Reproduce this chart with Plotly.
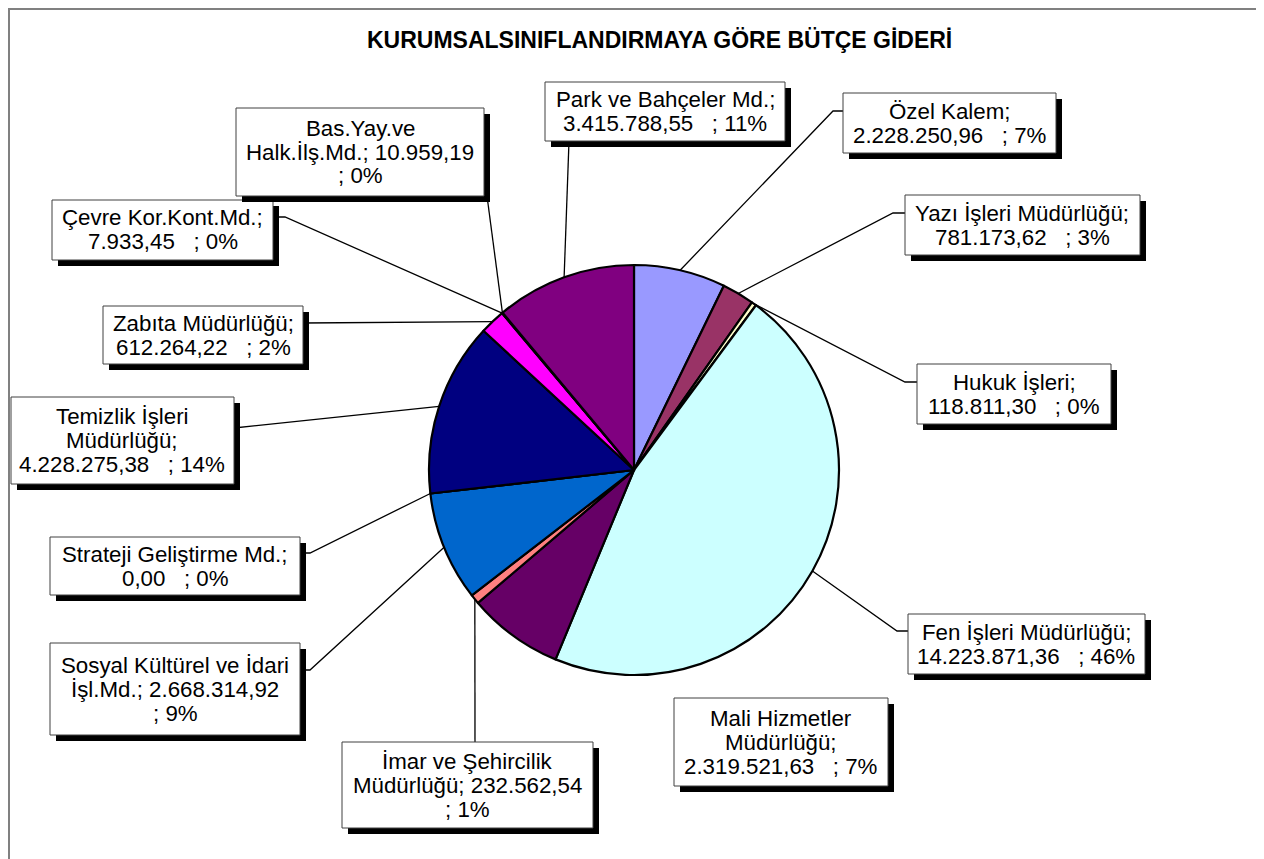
import math
import plotly.graph_objects as go

# ---------------- data ----------------
departments = [
    "Özel Kalem", "Yazı İşleri Müdürlüğü", "Hukuk İşleri", "Fen İşleri Müdürlüğü",
    "Mali Hizmetler Müdürlüğü", "İmar ve Şehircilik Müdürlüğü",
    "Sosyal Kültürel ve İdari İşl.Md.", "Strateji Geliştirme Md.",
    "Temizlik İşleri Müdürlüğü", "Zabıta Müdürlüğü", "Çevre Kor.Kont.Md.",
    "Bas.Yay.ve Halk.İlş.Md.", "Park ve Bahçeler Md.",
]
amounts = [
    2228250.96, 781173.62, 118811.30, 14223871.36, 2319521.63, 232562.54,
    2668314.92, 0.00, 4228275.38, 612264.22, 7933.45, 10959.19, 3415788.55,
]
percent_labels = ["7%", "3%", "0%", "46%", "7%", "1%", "9%", "0%", "14%", "2%", "0%", "0%", "11%"]

# label line templates ({v} = amount, {p} = percent)
label_templates = [
    ["Özel Kalem;", "{v}   ; {p}"],
    ["Yazı İşleri Müdürlüğü;", "{v}   ; {p}"],
    ["Hukuk İşleri;", "{v}   ; {p}"],
    ["Fen İşleri Müdürlüğü;", "{v}   ; {p}"],
    ["Mali Hizmetler", "Müdürlüğü;", "{v}   ; {p}"],
    ["İmar ve Şehircilik", "Müdürlüğü; {v}", "; {p}"],
    ["Sosyal Kültürel ve İdari", "İşl.Md.; {v}", "; {p}"],
    ["Strateji Geliştirme Md.;", "{v}   ; {p}"],
    ["Temizlik İşleri", "Müdürlüğü;", "{v}   ; {p}"],
    ["Zabıta Müdürlüğü;", "{v}   ; {p}"],
    ["Çevre Kor.Kont.Md.;", "{v}   ; {p}"],
    ["Bas.Yay.ve", "Halk.İlş.Md.; {v}", "; {p}"],
    ["Park ve Bahçeler Md.;", "{v}   ; {p}"],
]
title_text = "KURUMSALSINIFLANDIRMAYA GÖRE BÜTÇE GİDERİ"

# ---------------- style / layout ----------------
PAGE_OFF = 8                       # default body margin of the html page
W, H = 1264 - PAGE_OFF, 859 - PAGE_OFF   # figure size so the page fits the window
slice_colors = ["#9999FF", "#993366", "#FFFFCC", "#CCFFFF", "#660066", "#FF8080",
                "#0066CC", "#CCCCFF", "#000080", "#FF00FF", "#FFFF00", "#00FFFF", "#800080"]
FONT = "Arial, Liberation Sans, sans-serif"
FS = 22.3
TITLE_FS = 23
LINE_H = 24
CX, CY, R = 634, 470, 205          # pie centre / radius in screen pixels

# label boxes (x0, y0, x1, y1) in screen pixels
boxes = [
    (843, 93, 1056, 153),
    (905, 195, 1140, 255),
    (917, 364, 1111, 424),
    (908, 614, 1145, 674),
    (674, 698, 888, 786),
    (342, 742, 593, 828),
    (50, 643, 300, 735),
    (50, 537, 300, 595),
    (11, 397, 234, 484),
    (103, 306, 303, 364),
    (52, 200, 273, 260),
    (236, 108, 484, 196),
    (545, 82, 785, 141),
]
# box-side points of each leader line (None = no leader)
connectors = [
    [(843, 111), (833, 111)],
    [(905, 213), (893, 213)],
    [(917, 382), (905, 382)],
    [(908, 631), (897, 631)],
    None,
    [(475, 742)],
    [(300, 670), (310, 670)],
    [(300, 553), (310, 553)],
    [(234, 428)],
    [(303, 323)],
    [(273, 217), (285, 217)],
    [(487, 196)],
    [(569, 141)],
]


def px(x):
    return (x - PAGE_OFF) / W


def py(y):
    return 1 - (y - PAGE_OFF) / H


def fmt_tr(v):
    s = f"{v:,.2f}"
    return s.replace(",", "X").replace(".", ",").replace("X", ".")


fig = go.Figure()
fig.add_trace(go.Pie(
    labels=departments, values=amounts, sort=False, direction="clockwise", rotation=0,
    marker=dict(colors=slice_colors, line=dict(color="black", width=2.2)),
    textinfo="none", hoverinfo="label+value+percent", showlegend=False,
    domain=dict(x=[px(CX - R), px(CX + R)], y=[py(CY + R), py(CY - R)]),
))

shapes = []
annotations = []

# outer border (kept just inside the visible figure area)
shapes.append(dict(type="rect", xref="paper", yref="paper", x0=px(9), x1=px(1262),
                   y0=py(900), y1=py(9), line=dict(color="#808080", width=2), layer="below"))

total = sum(amounts)
cum = 0.0
for i, v in enumerate(amounts):
    mid = (cum + v / 2) / total
    cum += v
    ang = 2 * math.pi * mid
    ex, ey = CX + R * math.sin(ang), CY - R * math.cos(ang)
    conn = connectors[i]
    if conn:
        pts = list(conn) + [(ex, ey)]
        path = "M " + " L ".join(f"{px(x):.5f},{py(y):.5f}" for x, y in pts)
        shapes.append(dict(type="path", xref="paper", yref="paper", path=path,
                           line=dict(color="black", width=1.3), layer="above"))
    x0, y0, x1, y1 = boxes[i]
    # shadow
    shapes.append(dict(type="rect", xref="paper", yref="paper",
                       x0=px(x0 + 6), x1=px(x1 + 6), y0=py(y1 + 6), y1=py(y0 + 6),
                       fillcolor="black", line=dict(width=0), layer="above"))
    shapes.append(dict(type="rect", xref="paper", yref="paper",
                       x0=px(x0), x1=px(x1), y0=py(y1), y1=py(y0),
                       fillcolor="white", line=dict(color="#404040", width=1), layer="above"))
    lines = [t.format(v=fmt_tr(v), p=percent_labels[i]).replace("   ", "\u00a0\u00a0\u00a0")
             for t in label_templates[i]]
    n = len(lines)
    ccx, ccy = (x0 + x1) / 2, (y0 + y1) / 2
    for k, ln in enumerate(lines):
        yy = ccy + (k - (n - 1) / 2) * LINE_H
        annotations.append(dict(xref="paper", yref="paper", x=px(ccx), y=py(yy),
                                text=ln, showarrow=False, xanchor="center", yanchor="middle",
                                font=dict(family=FONT, size=FS, color="black")))

annotations.append(dict(xref="paper", yref="paper", x=px(659), y=py(40), text=f"<b>{title_text}</b>",
                        showarrow=False, xanchor="center", yanchor="middle",
                        font=dict(family=FONT, size=TITLE_FS, color="black")))

fig.update_layout(
    width=W, height=H, margin=dict(l=0, r=0, t=0, b=0),
    paper_bgcolor="white", plot_bgcolor="white",
    shapes=shapes, annotations=annotations,
)
fig.write_html("out.html")
